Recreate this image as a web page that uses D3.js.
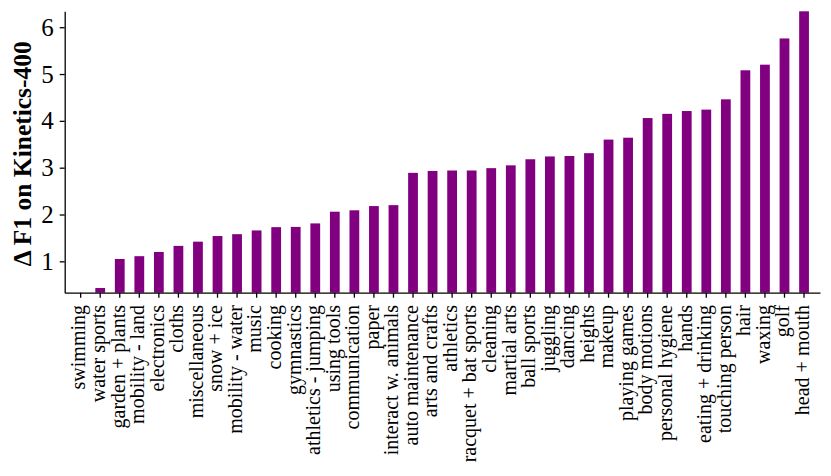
<!DOCTYPE html>
<html>
<head>
<meta charset="utf-8">
<script src="https://cdn.jsdelivr.net/npm/d3@7"></script>
<style>
  html, body { margin: 0; padding: 0; background: #fff; }
  svg { display: block; }
  text { font-family: "Times New Roman", "Liberation Serif", serif; }
</style>
</head>
<body>
<svg id="chart" width="831" height="476"></svg>
<script>
const categories = ["swimming", "water sports", "garden + plants", "mobility - land", "electronics", "cloths",
  "miscellaneous", "snow + ice", "mobility - water", "music", "cooking", "gymnastics", "athletics - jumping",
  "using tools", "communication", "paper", "interact w. animals", "auto maintenance", "arts and crafts",
  "athletics", "racquet + bat sports", "cleaning", "martial arts", "ball sports", "juggling", "dancing",
  "heights", "makeup", "playing games", "body motions", "personal hygiene", "hands", "eating + drinking",
  "touching person", "hair", "waxing", "golf", "head + mouth"];
const values = [0.33, 0.43, 1.05, 1.11, 1.20, 1.33, 1.42, 1.54, 1.58, 1.66, 1.73, 1.735, 1.81,
  2.06, 2.09, 2.18, 2.20, 2.89, 2.93, 2.94, 2.94, 2.99, 3.05, 3.18, 3.24, 3.25, 3.31, 3.60, 3.64,
  4.06, 4.15, 4.21, 4.24, 4.46, 5.08, 5.20, 5.76, 6.34];
const yTicks = [1, 2, 3, 4, 5, 6];
const yLabel = "Δ F1 on Kinetics-400";

const svg = d3.select("#chart");
const mLeft = 64.7, mRight = 820, mTop = 11.3, mBottom = 292.7;

const x = d3.scaleBand().domain(categories).range([mLeft, mRight]).paddingInner(0.5).paddingOuter(0.566);
const y = d3.scaleLinear().domain([d3.min(values), d3.max(values)]).range([mBottom, mTop]);

svg.append("g").selectAll("rect")
  .data(values)
  .join("rect")
  .attr("x", (d, i) => x(categories[i]))
  .attr("width", x.bandwidth())
  .attr("y", d => y(d))
  .attr("height", d => mBottom - y(d))
  .attr("fill", "#800080");

const yAxis = svg.append("g")
  .attr("transform", `translate(${mLeft},0)`)
  .call(d3.axisLeft(y).tickValues(yTicks).tickFormat(d3.format("d")).tickSize(5).tickSizeOuter(0).tickPadding(6));
yAxis.selectAll("text").attr("font-size", 25).attr("fill", "#000")
  .style("font-family", '"Times New Roman", "Liberation Serif", serif');
yAxis.selectAll("line, path").attr("stroke", "#000").attr("stroke-width", 1.3);

const xAxis = svg.append("g")
  .attr("transform", `translate(0,${mBottom})`)
  .call(d3.axisBottom(x).tickSize(5).tickSizeOuter(0).tickPadding(7));
xAxis.selectAll("line, path").attr("stroke", "#000").attr("stroke-width", 1.3);
xAxis.selectAll("text")
  .attr("font-size", 20).attr("fill", "#000")
  .style("font-family", '"Times New Roman", "Liberation Serif", serif')
  .attr("text-anchor", "end")
  .attr("transform", "rotate(-90)")
  .attr("x", -12.3)
  .attr("y", 0)
  .attr("dy", "0.24em");

svg.append("text")
  .attr("transform", `translate(30.5,${(mTop + mBottom) / 2 + 1.7}) rotate(-90)`)
  .attr("text-anchor", "middle")
  .attr("font-size", 25.5)
  .attr("font-weight", "bold")
  .attr("fill", "#000")
  .text(yLabel);
</script>
</body>
</html>
